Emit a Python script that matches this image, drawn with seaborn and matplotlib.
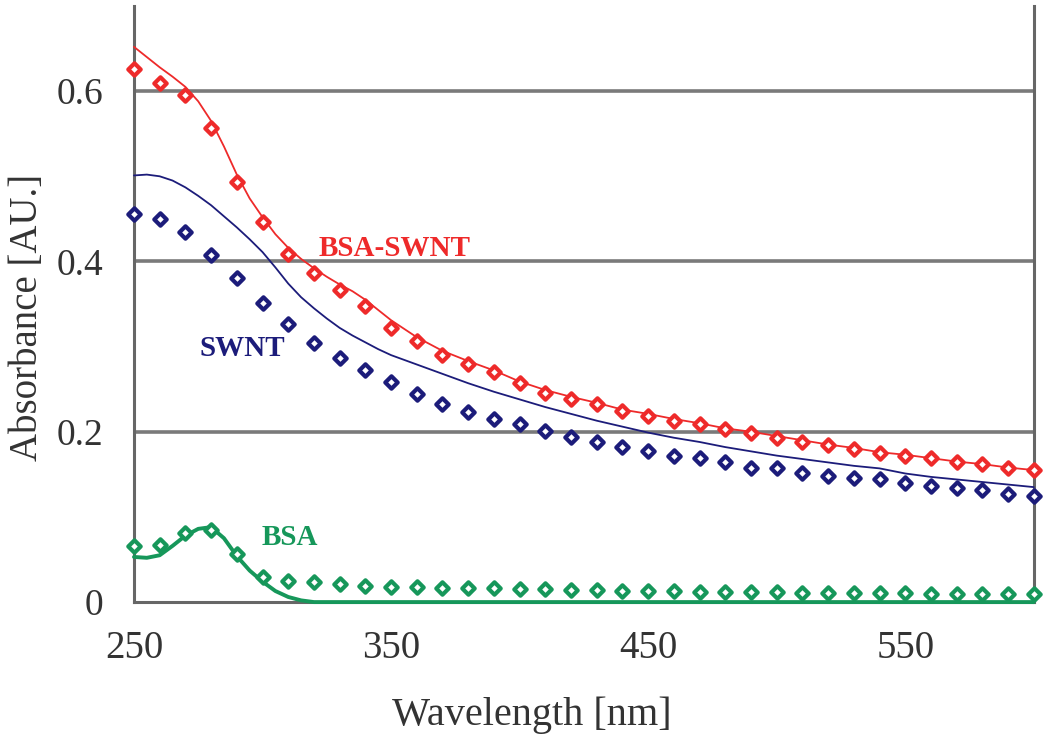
import matplotlib
matplotlib.use("Agg")
import matplotlib.pyplot as plt
import seaborn as sns
import numpy as np
import pandas as pd

# ---------------- data ----------------
wavelength = list(range(250, 601, 10))

bsa_swnt_pts = [0.626, 0.609, 0.595, 0.557, 0.493, 0.446, 0.409, 0.387, 0.367, 0.348,
                0.322, 0.307, 0.290, 0.280, 0.270, 0.257, 0.246, 0.239, 0.233, 0.224,
                0.219, 0.213, 0.209, 0.203, 0.199, 0.193, 0.188, 0.185, 0.180, 0.175,
                0.172, 0.169, 0.164, 0.162, 0.157, 0.155]
swnt_pts = [0.456, 0.450, 0.435, 0.407, 0.380, 0.351, 0.326, 0.304, 0.287, 0.273,
            0.259, 0.244, 0.233, 0.223, 0.215, 0.209, 0.201, 0.194, 0.188, 0.182,
            0.177, 0.172, 0.169, 0.164, 0.158, 0.157, 0.152, 0.148, 0.146, 0.144,
            0.140, 0.136, 0.134, 0.132, 0.127, 0.124]
bsa_pts = [0.066, 0.067, 0.081, 0.085, 0.056, 0.030, 0.025, 0.024, 0.021, 0.019,
           0.018, 0.018, 0.017, 0.016, 0.016, 0.015, 0.015, 0.014, 0.014, 0.013,
           0.013, 0.013, 0.012, 0.012, 0.012, 0.012, 0.011, 0.011, 0.011, 0.011,
           0.011, 0.010, 0.010, 0.010, 0.010, 0.010]

# fitted curves (read every 5 nm up to 350 nm, every 10 nm after)
fit_wavelength = list(range(250, 350, 5)) + list(range(350, 601, 10))
bsa_swnt_fit = [0.652, 0.640, 0.628, 0.617, 0.605, 0.588, 0.565, 0.535, 0.502, 0.474,
                0.452, 0.432, 0.416, 0.403, 0.392, 0.382, 0.373, 0.365, 0.355, 0.343,
                0.331, 0.311, 0.295, 0.283, 0.272, 0.259, 0.249, 0.241, 0.234, 0.226,
                0.221, 0.215, 0.210, 0.204, 0.200, 0.195, 0.190, 0.185, 0.181, 0.176,
                0.173, 0.169, 0.165, 0.162, 0.158, 0.155]
swnt_fit = [0.501, 0.502, 0.500, 0.495, 0.487, 0.477, 0.466, 0.453, 0.440, 0.426,
            0.411, 0.393, 0.374, 0.358, 0.345, 0.333, 0.322, 0.313, 0.305, 0.297,
            0.290, 0.279, 0.268, 0.257, 0.247, 0.238, 0.229, 0.221, 0.213, 0.206,
            0.199, 0.193, 0.188, 0.182, 0.177, 0.172, 0.168, 0.164, 0.160, 0.157,
            0.151, 0.147, 0.144, 0.141, 0.138, 0.135]
bsa_fit = [0.053, 0.052, 0.055, 0.066, 0.078, 0.086, 0.088, 0.075, 0.054, 0.037,
           0.024, 0.013, 0.006, 0.002, 0.0, 0.0, 0.0, 0.0, 0.0, 0.0,
           0.0, 0.0, 0.0, 0.0, 0.0, 0.0, 0.0, 0.0, 0.0, 0.0,
           0.0, 0.0, 0.0, 0.0, 0.0, 0.0, 0.0, 0.0, 0.0, 0.0,
           0.0, 0.0, 0.0, 0.0, 0.0, 0.0]

series_names = ["BSA-SWNT", "SWNT", "BSA"]
series_colors = ["#ee2a2a", "#1c1c7a", "#16975a"]
x_ticks = [250, 350, 450, 550]
y_ticks = [0, 0.2, 0.4, 0.6]
y_ticklabels = ["0", "0.2", "0.4", "0.6"]

# ---------------- plot ----------------
sns.set_theme(style="white")
plt.rcParams["font.family"] = ["Liberation Serif", "DejaVu Serif"]

fig = plt.figure(figsize=(10.5, 7.47), dpi=100)
ax = fig.add_axes([0.1276, 0.194, 0.857, 0.798])

pts = [bsa_swnt_pts, swnt_pts, bsa_pts]
fits = [bsa_swnt_fit, swnt_fit, bsa_fit]
lws = [1.3, 1.3, 2.8]

for name, col, p, f, lw in zip(series_names, series_colors, pts, fits, lws):
    sns.lineplot(x=fit_wavelength, y=f, ax=ax, color=col, linewidth=lw, zorder=3,
                 clip_on=False)
    sns.scatterplot(x=wavelength, y=p, ax=ax, marker="D", s=40, color=col,
                    facecolor="white", edgecolor=col, linewidth=3.0, zorder=4,
                    clip_on=False)

ax.set_xlim(250, 600)
ax.set_ylim(0, 0.7)
ax.set_xticks(x_ticks)
ax.set_yticks(y_ticks)
ax.set_yticklabels(y_ticklabels)

for yv in y_ticks[1:]:
    ax.axhline(yv, color="#7a7a7a", linewidth=2.6, zorder=1)

for s in ["left", "bottom", "right"]:
    ax.spines[s].set_visible(True)
    ax.spines[s].set_color("#666666")
    ax.spines[s].set_linewidth(2.2)
ax.spines["top"].set_visible(False)

ax.tick_params(axis="both", direction="out", length=10, width=1.8,
               color="#555555", labelsize=28, labelcolor="#333333")
ax.tick_params(axis="x", pad=10)
ax.tick_params(axis="y", pad=12, labelsize=27)

ax.set_xlabel("Wavelength [nm]", fontsize=29, color="#333333")
ax.set_ylabel("Absorbance [AU.]", fontsize=28, color="#333333")
ax.xaxis.set_label_coords(0.442, -0.158)
ax.yaxis.set_label_coords(-0.098, 0.477)

ax.text(351.5, 0.415, "BSA-SWNT", color=series_colors[0], fontsize=21,
        fontweight="bold", ha="center", va="center", zorder=5)
ax.text(292, 0.298, "SWNT", color=series_colors[1], fontsize=21,
        fontweight="bold", ha="center", va="center", zorder=5)
ax.text(310.5, 0.076, "BSA", color=series_colors[2], fontsize=21,
        fontweight="bold", ha="center", va="center", zorder=5)

fig.savefig("out.png", dpi=100, facecolor="white")
